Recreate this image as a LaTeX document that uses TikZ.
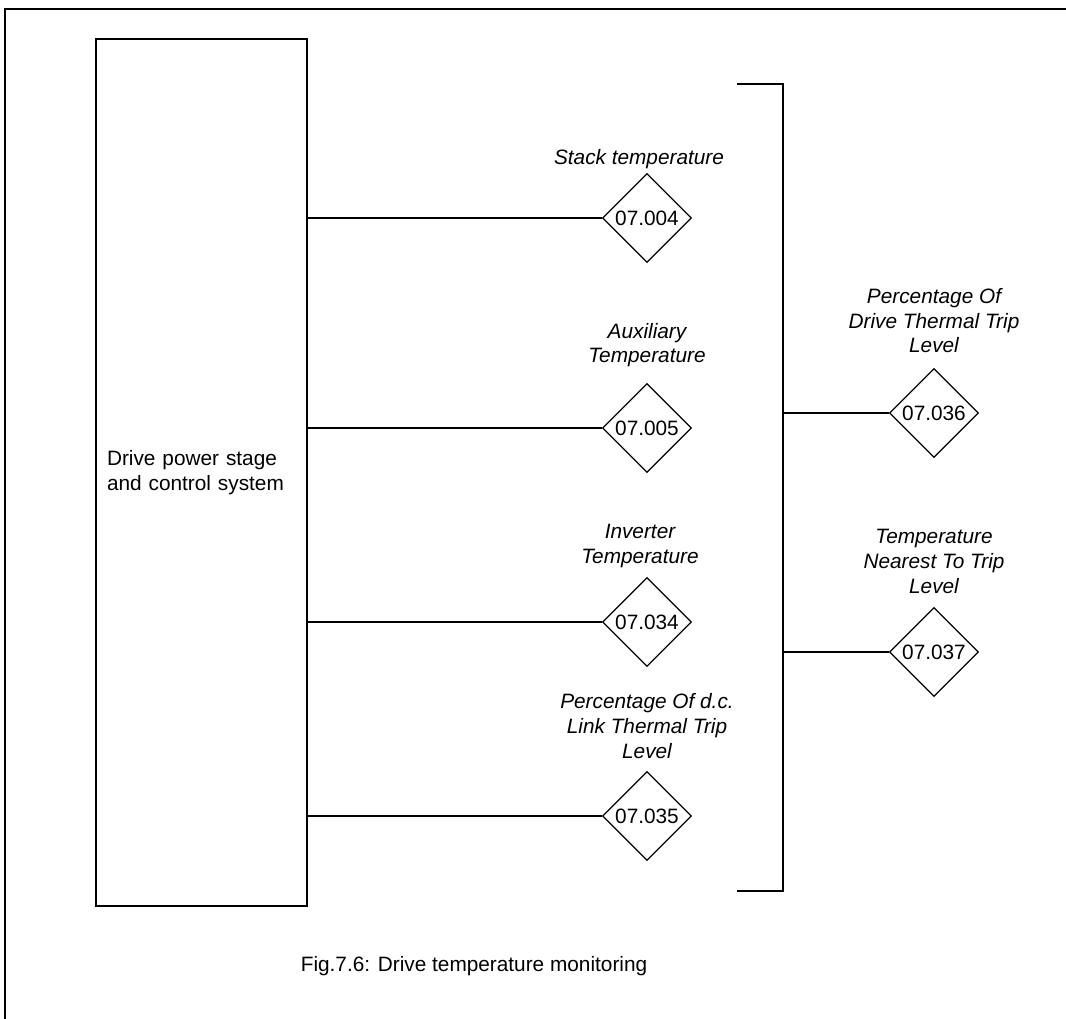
\documentclass[tikz,border=0pt]{standalone}
\usepackage{fontspec}
\setmainfont{Liberation Sans}
\usetikzlibrary{shapes.geometric, positioning}

\newcommand{\dsize}{\fontsize{15.6pt}{18.4pt}\selectfont}

\tikzset{
  wire/.style={line width=1pt},
  param/.style={draw, diamond, line width=1pt, minimum width=66.75pt, minimum height=66.75pt, inner sep=0pt, fill=white},
  lbl/.style={align=center, font=\dsize\itshape, anchor=base, inner sep=0pt},
}

\begin{document}
\begin{tikzpicture}[x=0.75pt, y=-0.75pt, font=\dsize]
  \useasboundingbox (0,0) rectangle (1066,1019);
  % page frame, cut off at right and bottom
  \draw[line width=1.3pt] (5,1019) -- (5,9) -- (1066,9);

  \node[draw, wire, minimum width=158.25pt, minimum height=650.25pt, text width=141.75pt, align=left, inner xsep=8.25pt] (drive) at (201.5,472.5) {Drive power stage\\and control system};

  % monitored parameters
  \node[param] (p004) at (647,218) {07.004};
  \node[param] (p005) at (647,428) {07.005};
  \node[param] (p034) at (647,622) {07.034};
  \node[param] (p035) at (647,816) {07.035};
  \node[param] (p036) at (934,413) {07.036};
  \node[param] (p037) at (934,652) {07.037};

  \node[lbl] (l004) at (639,165) {Stack temperature};
  \node[lbl] (l005) at (647,363) {Auxiliary\\Temperature};
  \node[lbl] (l034) at (640,563) {Inverter\\Temperature};
  \node[lbl] (l035) at (647,758) {Percentage Of d.c.\\Link Thermal Trip\\Level};
  \node[lbl] (l036) at (934,353) {Percentage Of\\Drive Thermal Trip\\Level};
  \node[lbl] (l037) at (934,593) {Temperature\\Nearest To Trip\\Level};

  \foreach \p in {p004,p005,p034,p035}
    \draw[wire] (drive.east |- \p) -- (\p);

  % bracket
  \coordinate (btop) at (783,84);
  \coordinate (bbot) at (783,891);
  \draw[wire] (737,84) -- (btop) -- (bbot) -- (737,891);
  \draw[wire] (btop |- p036) -- (p036);
  \draw[wire] (btop |- p037) -- (p037);

  \node[anchor=base] (cap) at (474,971) {Fig.7.6: Drive temperature monitoring};
\end{tikzpicture}
\end{document}
